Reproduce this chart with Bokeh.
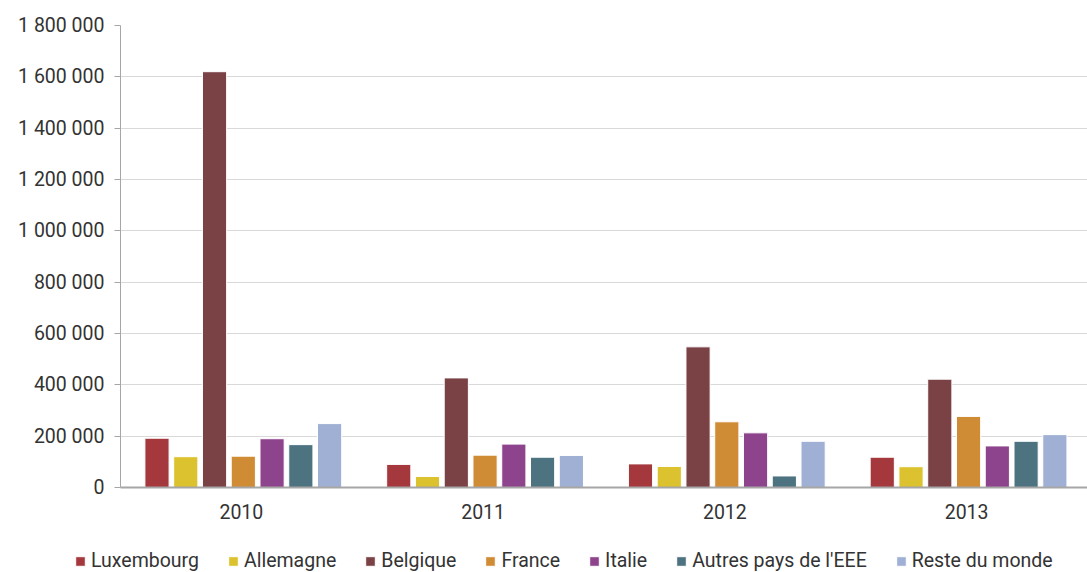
from bokeh.plotting import figure
from bokeh.layouts import column
from bokeh.models import ColumnDataSource, FactorRange, Legend, LegendItem, CustomJSTickFormatter, FixedTicker
from bokeh.transform import dodge
from bokeh.embed import file_html
from bokeh.resources import INLINE

years = ["2010", "2011", "2012", "2013"]
series_names = ["Luxembourg", "Allemagne", "Belgique", "France", "Italie", "Autres pays de l'EEE", "Reste du monde"]
luxembourg = [192000, 90000, 92000, 118000]
allemagne = [120000, 43000, 82000, 81000]
belgique = [1620000, 427000, 548000, 422000]
france = [122000, 126000, 256000, 277000]
italie = [190000, 169000, 213000, 162000]
autres_eee = [167000, 118000, 45000, 180000]
reste_monde = [249000, 125000, 180000, 206000]
y_ticks = [0, 200000, 400000, 600000, 800000, 1000000, 1200000, 1400000, 1600000, 1800000]

colors = ["#A5383D", "#DCC22E", "#7A4245", "#D08B35", "#8E448C", "#4D7380", "#A0B0D4"]
keys = ["lux", "all", "bel", "fra", "ita", "aut", "res"]
values = [luxembourg, allemagne, belgique, france, italie, autres_eee, reste_monde]

data = {"year": years}
for k, v in zip(keys, values):
    data[k] = v
source = ColumnDataSource(data)

FONT = "Roboto"
TXT = "#333333"
FS = "19.5px"

p = figure(x_range=FactorRange(*years, range_padding=0), y_range=(0, 1800000),
           frame_width=967, frame_height=462, min_border_left=120, min_border_right=0,
           min_border_top=25, min_border_bottom=45,
           output_backend="svg", toolbar_location=None)
p.outline_line_color = None
p.frame_align = False

for i, (k, c) in enumerate(zip(keys, colors)):
    p.vbar(x=dodge("year", (i - 3) * 0.119 + 0.008, range=p.x_range), top=k, width=0.1,
           source=source, fill_color=c, line_color="white", line_width=1)

p.yaxis.ticker = FixedTicker(ticks=y_ticks)
p.yaxis.formatter = CustomJSTickFormatter(code="""
return tick.toFixed(0).replace(/\\B(?=(\\d{3})+(?!\\d))/g, ' ');
""")
p.yaxis.axis_line_color = "#A6A6A6"
p.yaxis.major_tick_line_color = "#A6A6A6"
p.yaxis.major_tick_out = 6
p.yaxis.major_tick_in = 0
p.yaxis.minor_tick_line_color = None
p.yaxis.major_label_text_font = FONT
p.yaxis.major_label_text_font_size = FS
p.yaxis.major_label_text_color = TXT
p.yaxis.major_label_standoff = 10

p.xaxis.axis_line_color = "#A6A6A6"
p.xaxis.axis_line_width = 2
p.xaxis.major_tick_line_color = None
p.xaxis.minor_tick_line_color = None
p.xaxis.major_label_text_font = FONT
p.xaxis.major_label_text_font_size = FS
p.xaxis.major_label_text_color = TXT
p.xaxis.major_label_standoff = 10

p.xgrid.grid_line_color = None
p.ygrid.grid_line_color = "#D9D9D9"
p.ygrid.grid_line_width = 1

# legend strip
lg = figure(width=1087, height=40, x_range=(0, 1), y_range=(0, 1),
            x_axis_location=None, y_axis_location=None,
            min_border=0, output_backend="svg", toolbar_location=None)
lg.frame_align = False
lg.grid.visible = False
lg.outline_line_color = None
items = []
for c, name in zip(colors, series_names):
    r = lg.vbar(x=[-10], top=[0], width=0.1, fill_color=c, line_color="white", line_width=1)
    items.append(LegendItem(label=name, renderers=[r]))
legend = Legend(items=items, orientation="horizontal", location=(74, 0),
                label_text_font=FONT, label_text_font_size=FS, label_text_color=TXT,
                glyph_width=12, glyph_height=12, label_standoff=5, spacing=28,
                border_line_color=None, background_fill_alpha=0, padding=0, margin=0)
lg.add_layout(legend, "center")

layout = column(p, lg, spacing=0)
open("out.html", "w").write(file_html(layout, INLINE))
